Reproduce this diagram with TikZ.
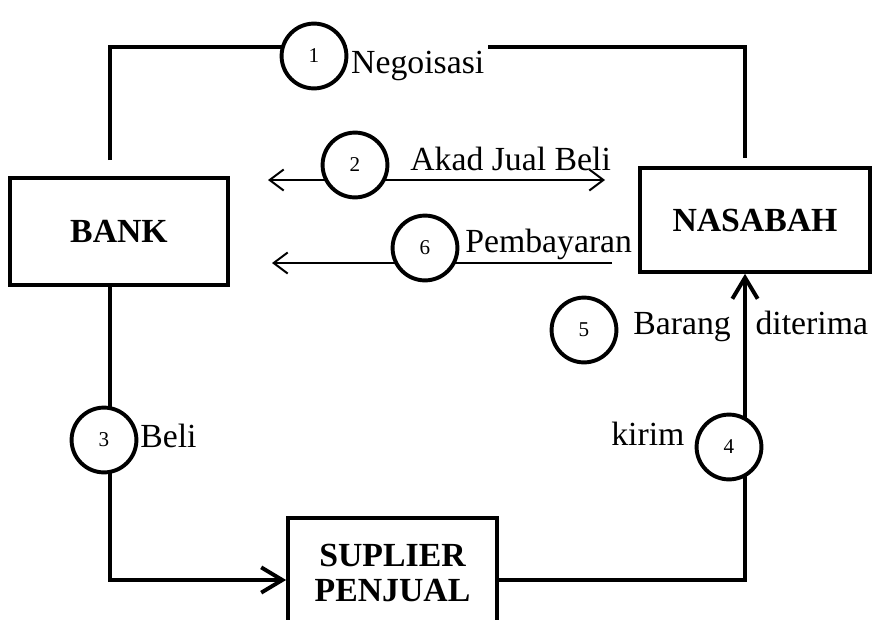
\documentclass[tikz,border=0pt]{standalone}
\usepackage{fontspec}
\setmainfont{Liberation Serif}
\usetikzlibrary{arrows.meta, positioning, calc}

\begin{document}
\begin{tikzpicture}[x=0.025cm, y=-0.025cm,
  box/.style={draw, line width=2.6pt, font=\fontsize{24}{25}\selectfont\bfseries,
              align=center, inner sep=0pt},
  nomor/.style={circle, draw, line width=2.8pt, fill=white, minimum size=1.62cm,
                inner sep=0pt, font=\fontsize{15}{16}\selectfont},
  teks/.style={font=\fontsize{24}{28}\selectfont, inner sep=0pt, anchor=base west},
  garis/.style={line width=2.8pt},
  tebal/.style={line width=2.8pt, -{Straight Barb[length=15pt, width=18pt, line width=2.8pt]}},
  tipis/.style={line width=1.4pt, >={Straight Barb[length=10pt, width=15pt, line width=1.4pt]}},
]
\clip (0,0) rectangle (880,619);
\useasboundingbox (0,0) rectangle (880,619);

% Boxes
\node[box, minimum width=5.45cm, minimum height=2.675cm] (bank) at (119,231.5) {BANK};
\node[box, minimum width=5.75cm, minimum height=2.6cm] (nasabah) at (755,220) {NASABAH};
\node[box, minimum width=5.225cm, minimum height=2.75cm] (suplier) at (392.5,573) {SUPLIER\\PENJUAL};

% Corners
\coordinate (n1) at (110,160);
\coordinate (n2) at (745,158);
\coordinate (atas kiri) at (110,47);
\coordinate (atas kanan) at (745,47);
\coordinate (kiri) at (110,580);
\coordinate (kanan) at (745,580);
\coordinate (j1) at (268,180);
\coordinate (j2) at (605,180);
\coordinate (b1) at (612,263);
\coordinate (b2) at (272,263);

% Connectors
\draw[garis] (n1) -- (atas kiri) -- (atas kanan) -- (n2);
\draw[tipis, <->] (j1) -- (j2);
\draw[tipis, ->] (b1) -- (b2);
\draw[tebal] (bank.south -| kiri) -- (kiri) -- (suplier.west |- kiri);
\draw[tebal] (suplier.east |- kanan) -- (kanan) -- (nasabah.south -| kanan);

% Labels
\node[teks, fill=white, inner ysep=5pt, inner xsep=2.8pt] (t1) at (347,73) {Negoisasi};
\node[teks] (t2) at (410,170) {Akad Jual Beli};
\node[teks] (t3) at (140,447) {Beli};
\node[teks] (t4) at (611,445) {kirim};
\node[teks] (t5) at (633,334) {Barang\hspace*{0.62cm}diterima};
\node[teks] (t6) at (465,252) {Pembayaran};

% Steps
\node[nomor] (s1) at (314,56) {1};
\node[nomor] (s2) at (355,165) {2};
\node[nomor] (s3) at (104,440) {3};
\node[nomor] (s4) at (729,447) {4};
\node[nomor] (s5) at (584,330) {5};
\node[nomor] (s6) at (425,248) {6};
\end{tikzpicture}
\end{document}
